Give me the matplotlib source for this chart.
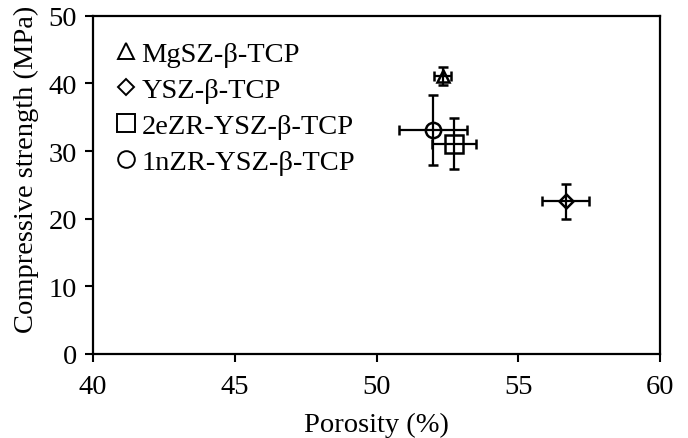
import matplotlib
matplotlib.use("Agg")
import matplotlib.pyplot as plt
from matplotlib.lines import Line2D

plt.rcParams["font.family"] = ["Liberation Serif", "DejaVu Serif"]

# data
labels = ["MgSZ-β-TCP", "YSZ-β-TCP", "2eZR-YSZ-β-TCP", "1nZR-YSZ-β-TCP"]
markers = ["^", "D", "s", "o"]
porosity = [52.33, 56.67, 52.74, 52.0]
porosity_err = [0.3, 0.82, 0.77, 1.2]
strength = [41.1, 22.55, 31.1, 33.1]
strength_err = [1.3, 2.6, 3.8, 5.2]

FS = 20.5
data_ms = [9, 7, 12.5, 11]
leg_ms = [12, 8.5, 12.5, 12]

fig = plt.figure(figsize=(6.88, 4.39), dpi=100)
ax = fig.add_axes([93 / 688, 1 - 355 / 439, 567 / 688, 338.3 / 439])

for m, x, xe, y, ye, ms in zip(markers, porosity, porosity_err,
                               strength, strength_err, data_ms):
    ax.errorbar(x, y, xerr=xe, yerr=ye, fmt=m, ms=ms, mfc="none", mec="black",
                mew=1.8, ecolor="black", elinewidth=1.6, capsize=3.5,
                capthick=1.6, zorder=3)

ax.set_xlim(40, 60)
ax.set_ylim(0, 50)
ax.set_xticks(range(40, 61, 5))
ax.set_yticks(range(0, 51, 10))
ax.tick_params(direction="out", length=5.5, width=1.5, labelsize=FS)
ax.tick_params(axis="x", pad=9)
ax.tick_params(axis="y", pad=6)
for s in ax.spines.values():
    s.set_linewidth(1.6)
ax.set_xlabel("Porosity (%)", fontsize=FS, labelpad=9)
ax.set_ylabel("Compressive strength (MPa)", fontsize=FS)
ax.yaxis.set_label_coords(-0.095, 0.55)

handles = [Line2D([], [], ls="none", marker=m, ms=ms, mfc="none", mec="black",
                  mew=1.4) for m, ms in zip(markers, leg_ms)]
ax.legend(handles, labels, loc="upper left", bbox_to_anchor=(0.04, 0.925),
          frameon=False, fontsize=FS, handletextpad=0.2, handlelength=0.7,
          labelspacing=0.35, borderpad=0, borderaxespad=0)

fig.savefig("out.png", dpi=100)
